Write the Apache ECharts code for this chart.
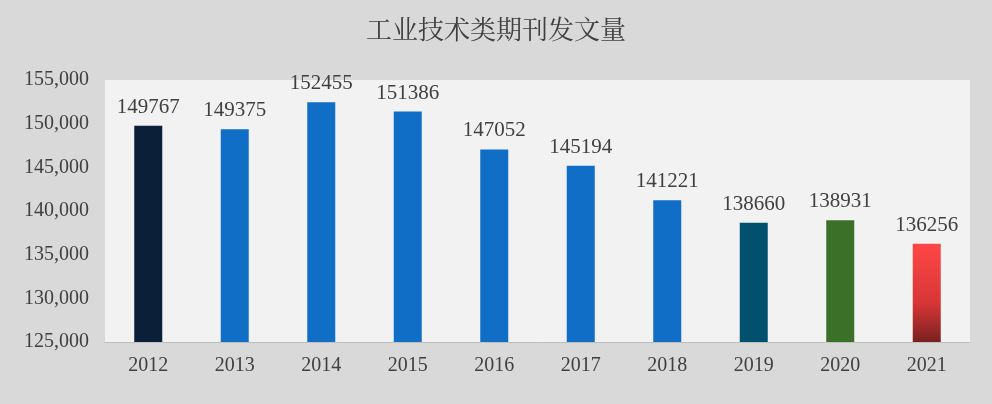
<!DOCTYPE html>
<html><head><meta charset="utf-8">
<script src="https://cdn.jsdelivr.net/npm/echarts@6/dist/echarts.min.js"></script>
<style>html,body{margin:0;padding:0;background:#d9d9d9}#c{width:992px;height:404px}</style>
</head><body><div id="c"></div>
<script>
const categories = ['2012','2013','2014','2015','2016','2017','2018','2019','2020','2021'];
const values = [149767,149375,152455,151386,147052,145194,141221,138660,138931,136256];
const colors = ['#0c1f38','#106ec6','#106ec6','#106ec6','#106ec6','#106ec6','#106ec6','#00506e','#3a7028',
  {type:'linear',x:0,y:0,x2:0,y2:1,colorStops:[{offset:0,color:'#ff4646'},{offset:0.6,color:'#d83636'},{offset:1,color:'#7a2020'}]}];
const font = '"Liberation Serif","Noto Serif CJK SC","Noto Sans CJK SC",serif';
const chart = echarts.init(document.getElementById('c'));
chart.setOption({
  backgroundColor:'#d9d9d9',
  animation:false,
  title:{text:'工业技术类期刊发文量',left:'center',top:14,textStyle:{fontFamily:font,fontSize:26,fontWeight:'normal',color:'#404040'}},
  grid:{left:105,right:22,top:80,bottom:62,show:true,backgroundColor:'#f2f2f2',borderWidth:0},
  xAxis:{type:'category',data:categories,axisTick:{show:false},axisLine:{lineStyle:{color:'#bfbfbf'}},
    axisLabel:{fontFamily:font,fontSize:20,color:'#404040',margin:14}},
  yAxis:{type:'value',min:125000,max:155000,interval:5000,splitLine:{show:false},
    axisLabel:{fontFamily:font,fontSize:20,color:'#404040',margin:16}},
  series:[{type:'bar',barWidth:28,
    data:values.map((v,i)=>({value:v,itemStyle:{color:colors[i]}})),
    label:{show:true,position:'top',distance:8,fontFamily:font,fontSize:21,color:'#404040'}}]
});
</script></body></html>
